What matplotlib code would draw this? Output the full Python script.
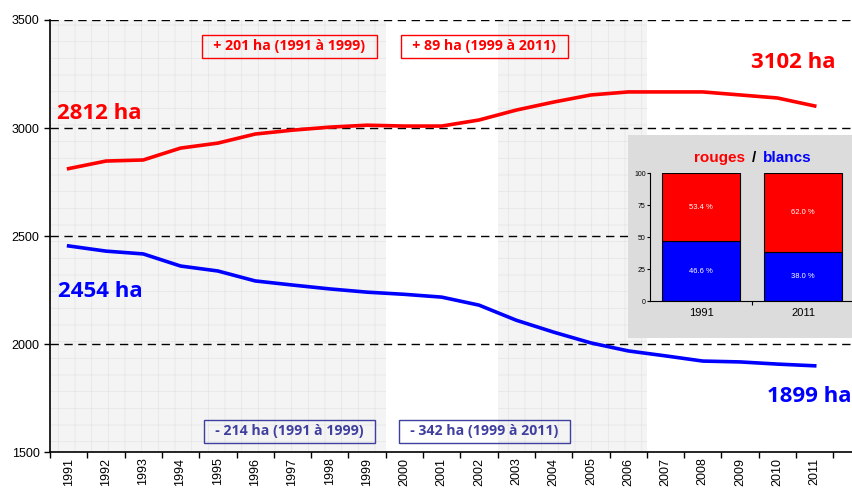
import numpy as np
import matplotlib.pyplot as plt
from matplotlib import font_manager
from matplotlib.patches import Rectangle

# surfaces (ha), 1991 -> 2011
years = list(range(1991, 2012))
rouges = [2812, 2847, 2852, 2907, 2930, 2972, 2990, 3004, 3013, 3009, 3009,
          3037, 3083, 3120, 3153, 3167, 3167, 3167, 3153, 3139, 3102]
blancs = [2454, 2430, 2417, 2361, 2338, 2292, 2273, 2255, 2240, 2230, 2217,
          2180, 2110, 2055, 2005, 1968, 1945, 1921, 1917, 1907, 1899]

# evolution per period, as printed on the chart
periods = ["1991 à 1999", "1999 à 2011"]
evol_rouges = ["+ 201 ha", "+ 89 ha"]
evol_blancs = ["- 214 ha", "- 342 ha"]

# part rouges / blancs (%)
inset_years = ["1991", "2011"]
part_blancs = [46.6, 38.0]
part_rouges = [53.4, 62.0]

RED = "#ff0000"
BLUE = "#0000ff"
DKBLUE = "#3f3f9f"

names = {f.name for f in font_manager.fontManager.ttflist}
narrow = "Liberation Sans Narrow" if "Liberation Sans Narrow" in names else "Liberation Sans"

plt.rcParams["font.family"] = ["Liberation Sans", "DejaVu Sans"]
plt.rcParams["hatch.linewidth"] = 0.5

fig = plt.figure(figsize=(8.52, 4.90), dpi=100)
ax = fig.add_axes([50 / 852, 1 - 452 / 490, 802 / 852, 432 / 490])

x = np.arange(len(years))

# shaded periods with fine grid
for a, b in [(-0.5, 8.5), (11.5, 15.5)]:
    ax.axvspan(a, b, facecolor="#f4f4f4", edgecolor="#e4e4e4", hatch="+", lw=0, zorder=0)

for v in [2000, 2500, 3000, 3500]:
    ax.axhline(v, color="black", lw=1, ls=(0, (6, 4)), zorder=1)

ax.plot(x, rouges, color=RED, lw=2.6, zorder=3)
ax.plot(x, blancs, color=BLUE, lw=2.6, zorder=3)

ax.set_xlim(-0.5, 21)
ax.set_ylim(1500, 3500)
ax.set_yticks([1500, 2000, 2500, 3000, 3500])
ax.tick_params(axis="y", labelsize=9, length=4, width=1)

ax.set_xticks(np.arange(-0.5, 21, 1))
ax.set_xticklabels([])
ax.set_xticks(x, minor=True)
ax.set_xticklabels([str(y) for y in years], minor=True, rotation=90, fontsize=9, va="top")
ax.tick_params(axis="x", which="major", length=4, width=1)
ax.tick_params(axis="x", which="minor", length=0, pad=4)

for s in ["top", "right"]:
    ax.spines[s].set_visible(False)
ax.spines["left"].set_linewidth(1.2)
ax.spines["bottom"].set_linewidth(1.2)

big = dict(fontsize=16, fontweight="bold", family="Open Sans", va="center")
ax.text(-0.31, 3069, f"{rouges[0]} ha", color=RED, ha="left", **big)
ax.text(20.55, 3301, f"{rouges[-1]} ha", color=RED, ha="right", **big)
ax.text(-0.28, 2241, f"{blancs[0]} ha", color=BLUE, ha="left", **big)
ax.text(20.98, 1755, f"{blancs[-1]} ha", color=BLUE, ha="right", **big)

box_txt = dict(fontsize=10.2, fontweight="bold", family="Open Sans", ha="center", va="center", zorder=4)
box_x = [5.92, 11.14]
for bx, per, er, eb in zip(box_x, periods, evol_rouges, evol_blancs):
    ax.text(bx, 3378, f"  {er} ({per})  ", color=RED,
            bbox=dict(boxstyle="square,pad=0.3", fc="none", ec=RED, lw=1), **box_txt)
    ax.text(bx, 1595, f"  {eb} ({per})  ", color=DKBLUE,
            bbox=dict(boxstyle="square,pad=0.3", fc="none", ec=DKBLUE, lw=1), **box_txt)

# inset: rouges / blancs
fig.patches.append(Rectangle((628 / 852, 1 - 338 / 490), 224 / 852, 203 / 490,
                             transform=fig.transFigure, facecolor="#dcdcdc",
                             edgecolor="none", zorder=5))
ins = fig.add_axes([650 / 852, 1 - 301 / 490, 204 / 852, 128 / 490], zorder=6)
ins.patch.set_alpha(0)
xi = np.arange(len(inset_years))
ins.bar(xi, part_blancs, width=0.77, color=BLUE, edgecolor="black", lw=0.8)
ins.bar(xi, part_rouges, bottom=part_blancs, width=0.77, color=RED, edgecolor="black", lw=0.8)
for i in xi:
    ins.text(i, part_blancs[i] / 2, f"{part_blancs[i]:.1f} %", color="white",
             ha="center", va="center", fontsize=5.5, family=narrow)
    ins.text(i, part_blancs[i] + part_rouges[i] / 2, f"{part_rouges[i]:.1f} %", color="white",
             ha="center", va="center", fontsize=5.5, family=narrow)
ins.set_xlim(-0.5, 1.5)
ins.set_ylim(0, 100)
ins.set_yticks([0, 25, 50, 75, 100])
ins.tick_params(axis="y", labelsize=5, length=2, pad=1)
ins.set_xticks([0.5])
ins.set_xticklabels([])
ins.set_xticks(xi, minor=True)
ins.set_xticklabels(inset_years, minor=True, fontsize=8, family=narrow)
ins.tick_params(axis="x", which="major", length=3)
ins.tick_params(axis="x", which="minor", length=0, pad=5)
for s in ["top", "right"]:
    ins.spines[s].set_visible(False)

title_kw = dict(va="center", fontsize=11, fontweight="bold", family=narrow, zorder=7)
cx = 754 / 852
ty = 1 - 158 / 490
fig.text(cx - 0.01, ty, "rouges", color=RED, ha="right", **title_kw)
fig.text(cx, ty, "/", color="black", ha="center", **title_kw)
fig.text(cx + 0.01, ty, "blancs", color=BLUE, ha="left", **title_kw)

fig.savefig("out.png", dpi=100)
